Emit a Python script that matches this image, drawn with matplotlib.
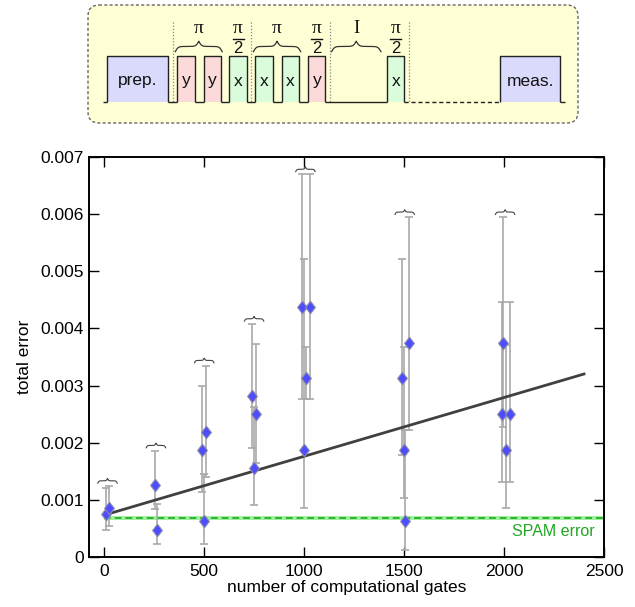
import numpy as np
import matplotlib
matplotlib.use("Agg")
import matplotlib.pyplot as plt
import matplotlib.transforms as mtransforms
from matplotlib.lines import Line2D
from matplotlib.patches import Rectangle, FancyBboxPatch

plt.rcParams['font.family'] = ['Liberation Sans', 'DejaVu Sans']

# ---------------------------------------------------------------- data
gate_counts = [10, 22, 255, 262, 490, 510, 500, 739, 760, 749,
               989, 1030, 1008, 998, 1522, 1488, 1497, 1505,
               1997, 1988, 2028, 2008]
group_ids = [0, 0, 1, 1, 2, 2, 2, 3, 3, 3, 4, 4, 4, 4, 5, 5, 5, 5, 6, 6, 6, 6]
total_error = [0.00075, 0.00085, 0.00125, 0.00047, 0.001875, 0.0021875, 0.000625,
               0.0028125, 0.0025, 0.0015625, 0.004375, 0.004375, 0.003125, 0.001875,
               0.00375, 0.003125, 0.001875, 0.000625, 0.00375, 0.0025, 0.0025, 0.001875]
error_low = [0.00047, 0.00054, 0.00083, 0.00022, 0.00114, 0.00139, 0.00022,
             0.00191, 0.00164, 0.00090, 0.00277, 0.00277, 0.00277, 0.00086,
             0.00222, 0.00178, 0.00103, 0.00012, 0.00227, 0.00131, 0.00131, 0.00086]
error_high = [0.00120, 0.00124, 0.00186, 0.00092, 0.00299, 0.00335, 0.00145,
              0.00408, 0.00372, 0.00262, 0.00670, 0.00670, 0.00368, 0.00521,
              0.00595, 0.00521, 0.00368, 0.00222, 0.00595, 0.00447, 0.00447, 0.00371]

fit_intercept = 0.00073
fit_slope = 1.03e-6
fit_range = [0, 2400]

spam_error = 0.00068
spam_uncertainty = 0.000035

x_ticks = [0, 500, 1000, 1500, 2000, 2500]
y_ticks = [0, 0.001, 0.002, 0.003, 0.004, 0.005, 0.006, 0.007]
y_ticklabels = ['0', '0.001', '0.002', '0.003', '0.004', '0.005', '0.006', '0.007']

# pulse sequence shown above the plot
seq_kind = ['prep', 'y', 'y', 'x', 'x', 'x', 'y', 'idle', 'x', 'wait', 'meas']
seq_text = ['prep.', 'y', 'y', 'x', 'x', 'x', 'y', '', 'x', '', 'meas.']
brace_groups = [((1, 2), 'π'), ((4, 5), 'π'), ((7,), 'I')]
half_pulses = [3, 6, 8]
separators_after = [0, 3, 6, 8]

# ---------------------------------------------------------------- helpers
def brace_shape(n=101, beta=34):
    half = np.linspace(0, 0.5, n)
    yh = (1 / (1 + np.exp(-beta * (half - half[0])))
          + 1 / (1 + np.exp(-beta * (half - half[-1]))))
    y = np.concatenate([yh, yh[-2::-1]])
    x = np.concatenate([half, 1 - half[-2::-1]])
    y = (y - y.min()) / (y.max() - y.min())
    return x, y


W, H = 635, 607
fig = plt.figure(figsize=(W / 100, H / 100), dpi=100)
serif = ['Liberation Serif', 'DejaVu Serif']

# ---------------------------------------------------------------- sequence diagram
dh = 130
axd = fig.add_axes([0, 1 - dh / H, 1, dh / H])
axd.set_xlim(0, W)
axd.set_ylim(dh, 0)
axd.axis('off')

axd.add_patch(FancyBboxPatch((88, 5), 490, 118,
                             boxstyle='round,pad=0,rounding_size=11',
                             fc='#ffffd6', ec='#666666', lw=1.0,
                             ls=(0, (2.2, 1.6)), zorder=0))

widths = {'prep': 61.6, 'meas': 60.7, 'x': 17.4, 'y': 17.2, 'idle': 61.7, 'wait': 95.3}
gaps = [3.4, 9, 9, 8.7, 8.6, 9, 9, 0, 0, 0, 0]
fills = {'prep': '#dadafc', 'meas': '#dadafc', 'y': '#fddada', 'x': '#dafcda'}
base, top = 101.7, 56.0
cur = 103.3
starts, ends = [], []
lk = dict(color='#222222', lw=1.0, solid_capstyle='butt', zorder=3)
for kind, txt, gap in zip(seq_kind, seq_text, gaps):
    if gap:
        axd.plot([cur, cur + gap], [base, base], **lk)
    cur += gap
    w = widths[kind]
    starts.append(cur)
    ends.append(cur + w)
    if kind in fills:
        axd.add_patch(Rectangle((cur, top), w, base - top, fc=fills[kind], ec='none', zorder=1))
        axd.plot([cur, cur, cur + w, cur + w], [base, top, top, base], **lk)
        axd.text(cur + w / 2, 85.5, txt, ha='center', va='baseline',
                 fontsize=12.5, color='#111111', zorder=4)
    elif kind == 'idle':
        axd.plot([cur, cur + w], [base, base], **lk)
    else:
        axd.plot([cur, cur + w], [base, base], color='#222222', lw=1.0,
                 ls=(0, (3, 2)), zorder=3)
    cur += w
axd.plot([cur, cur + 5], [base, base], **lk)

for i in separators_after:
    xs = ends[i] + 4.5
    axd.plot([xs, xs], [21.7, base], color='#888888', lw=0.9, ls=(0, (1, 1.5)), zorder=2)

bx, by = brace_shape()
for idx, lab in brace_groups:
    if seq_kind[idx[0]] == 'idle':
        w = ends[idx[-1]] - starts[idx[0]]
        x0, x1 = starts[idx[0]] + 0.1 * w, ends[idx[-1]] - 0.1 * w
    else:
        x0, x1 = starts[idx[0]] - 2, ends[idx[-1]] + 1.5
    axd.plot(x0 + bx * (x1 - x0), 51.7 - 10.5 * by, color='#333333', lw=0.9, zorder=3)
    axd.text((x0 + x1) / 2, 33.3, lab, ha='center', va='baseline',
             fontsize=14 if lab == 'π' else 13.5, family=serif, color='#111111')

for i in half_pulses:
    xc = (starts[i] + ends[i]) / 2
    axd.text(xc, 32.7, 'π', ha='center', va='baseline', fontsize=14,
             family=serif, color='#111111')
    axd.plot([xc - 5.5, xc + 5.5], [39.3, 39.3], color='#111111', lw=1.0)
    axd.text(xc, 53.3, '2', ha='center', va='baseline', fontsize=12, color='#111111')

# ---------------------------------------------------------------- main plot
left, right, bottom, topp = 89.3, 604.0, 556.7, 157.3
ax = fig.add_axes([left / W, 1 - bottom / H, (right - left) / W, (bottom - topp) / H])

x = np.array(gate_counts, dtype=float)
y = np.array(total_error)
lo = np.array(error_low)
hi = np.array(error_high)

# SPAM reference level
ax.axhspan(spam_error - spam_uncertainty, spam_error + spam_uncertainty,
           xmin=(0 + 75) / 2575, xmax=1, color='#9ff09f', lw=0, zorder=1)
ax.plot([0, 2500], [spam_error, spam_error], color='#2fb52f', lw=1.4,
        ls=(0, (3.5, 2)), zorder=1.5)
ax.text(2455, 0.000438, 'SPAM error', color='#22a522', fontsize=11.5,
        ha='right', va='center')

ax.errorbar(x, y, yerr=[y - lo, hi - y], fmt='none', ecolor='#a9a9a9',
            elinewidth=1.2, capsize=3.2, capthick=1.2, zorder=2)

fx = np.array(fit_range, dtype=float)
ax.plot(fx, fit_intercept + fit_slope * fx, color='#404040', lw=2.0, zorder=3)

diamond = [(0, 1), (0.78, 0), (0, -1), (-0.78, 0), (0, 1)]
ax.plot(x, y, ls='none', marker=diamond, ms=9, mfc='#4d4dff',
        mec='#8a8aa8', mew=0.8, zorder=4)

# braces over each group of error bars
gid = np.array(group_ids)
for g in np.unique(gid):
    m = gid == g
    cx, cy = x[m].mean(), hi[m].max()
    tr = (mtransforms.Affine2D().scale(1 / 72) + fig.dpi_scale_trans
          + mtransforms.ScaledTranslation(cx, cy, ax.transData))
    ax.add_line(Line2D((bx - 0.5) * 14, 2.0 + 3.4 * by, color='#444444',
                       lw=0.8, transform=tr, clip_on=False, zorder=3))

ax.set_xlim(-75, 2500)
ax.set_ylim(0, 0.007)
ax.set_xticks(x_ticks)
ax.set_xticklabels([str(t) for t in x_ticks])
ax.set_yticks(y_ticks)
ax.set_yticklabels(y_ticklabels)
ax.tick_params(direction='in', top=True, right=True, length=7.5, width=1.0,
               labelsize=12.5, colors='#000000')
ax.tick_params(axis='x', pad=5)
ax.tick_params(axis='y', pad=4)
for s in ax.spines.values():
    s.set_linewidth(1.4)

ax.set_xlabel('number of computational gates', fontsize=12.5, labelpad=1)
ax.set_ylabel('total error', fontsize=12.5, labelpad=6)

fig.savefig('out.png', dpi=100)
